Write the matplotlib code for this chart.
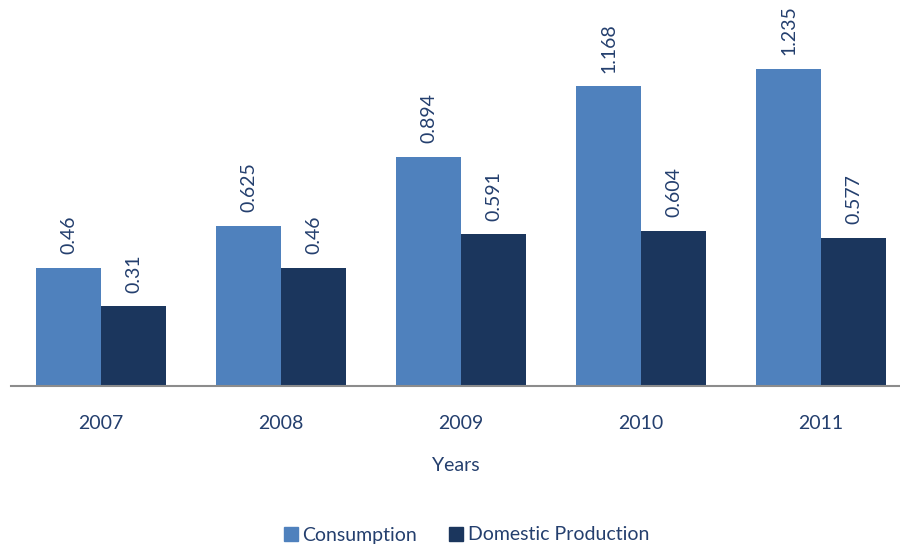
import numpy as np
import matplotlib.pyplot as plt
from matplotlib.lines import Line2D

# data
years = ["2007", "2008", "2009", "2010", "2011"]
consumption = [0.46, 0.625, 0.894, 1.168, 1.235]
domestic_production = [0.31, 0.46, 0.591, 0.604, 0.577]

c_cons = "#4F81BD"
c_prod = "#1B365D"
txt = "#243F6E"

plt.rcParams["font.family"] = ["Lato", "DejaVu Sans"]

fig = plt.figure(figsize=(9, 5.48), dpi=100)
# axes spans pixel x 11..900, y 0..386
ax = fig.add_axes([11 / 900, 1 - 386 / 548, 889 / 900, 386 / 548])

x = np.arange(len(years))
w = 65 / 180
b1 = ax.bar(x - w / 2, consumption, w, color=c_cons)
b2 = ax.bar(x + w / 2, domestic_production, w, color=c_prod)

# value labels above bars, rotated
for bars, vals in [(b1, consumption), (b2, domestic_production)]:
    for bar, v in zip(bars, vals):
        ax.annotate(f"{v:g}", (bar.get_x() + bar.get_width() / 2, v),
                    xytext=(0, 10), textcoords="offset points",
                    rotation=90, ha="center", va="bottom",
                    fontsize=14, color=txt)

ax.set_xlim(-0.5, -0.5 + 889 / 180)
ax.set_ylim(0, 386 / 256.5)
ax.set_xticks(x)
ax.set_xticklabels(years, fontsize=14, color=txt)
ax.tick_params(axis="x", length=0, pad=21)
ax.set_yticks([])
ax.set_xlabel("Years", fontsize=14, color=txt, labelpad=18)

for s in ["top", "right", "left"]:
    ax.spines[s].set_visible(False)
ax.spines["bottom"].set_color("#8C8C8C")
ax.spines["bottom"].set_linewidth(1.5)

handles = [Line2D([], [], marker="s", linestyle="none", markersize=10, color=c_cons),
           Line2D([], [], marker="s", linestyle="none", markersize=10, color=c_prod)]
fig.legend(handles, ["Consumption", "Domestic Production"], loc="center",
           bbox_to_anchor=(465 / 900, 1 - 535 / 548), ncol=2, frameon=False,
           fontsize=14, labelcolor=txt, handletextpad=0.1, columnspacing=1.5,
           handlelength=1.0)

fig.savefig("out.png", dpi=100)
